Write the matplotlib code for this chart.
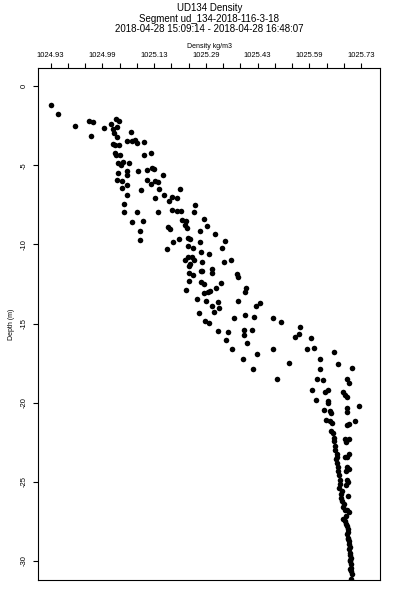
import numpy as np
import matplotlib
matplotlib.use("Agg")
import matplotlib.pyplot as plt

plt.rcParams['font.family'] = ['Liberation Sans', 'DejaVu Sans']

title = "UD134 Density"
segment = "Segment ud_134-2018-116-3-18"
time_range = "2018-04-28 15:09:14 - 2018-04-28 16:48:07"

# top axis labels as printed on the original (every third tick)
xtick_labels = ["1024.93", "1024.99", "1025.13", "1025.29", "1025.43", "1025.59", "1025.73"]
ytick_values = [0, -5, -10, -15, -20, -25, -30]

# density (kg/m3) and depth (m)
density = [
    1024.931, 1024.950, 1024.994, 1025.029, 1025.040, 1025.035, 1025.068, 1025.085, 1025.098, 1025.105,
    1025.091, 1025.101, 1025.093, 1025.102, 1025.137, 1025.091, 1025.096, 1025.105, 1025.127, 1025.139,
    1025.147, 1025.152, 1025.170, 1025.096, 1025.109, 1025.098, 1025.171, 1025.188, 1025.104, 1025.117,
    1025.133, 1025.111, 1025.154, 1025.104, 1025.127, 1025.126, 1025.179, 1025.192, 1025.196, 1025.219,
    1025.101, 1025.114, 1025.179, 1025.188, 1025.200, 1025.206, 1025.127, 1025.115, 1025.163, 1025.210,
    1025.264, 1025.127, 1025.223, 1025.200, 1025.243, 1025.255, 1025.236, 1025.118, 1025.303, 1025.118,
    1025.152, 1025.206, 1025.243, 1025.255, 1025.265, 1025.299, 1025.324, 1025.333, 1025.269, 1025.279,
    1025.276, 1025.281, 1025.139, 1025.167, 1025.232, 1025.237, 1025.161, 1025.316, 1025.161, 1025.262,
    1025.285, 1025.289, 1025.246, 1025.316, 1025.284, 1025.297, 1025.229, 1025.353, 1025.379, 1025.371,
    1025.338, 1025.318, 1025.283, 1025.293, 1025.275, 1025.287, 1025.290, 1025.300, 1025.321, 1025.298,
    1025.286, 1025.317, 1025.320, 1025.346, 1025.346, 1025.377, 1025.394, 1025.409, 1025.413, 1025.287,
    1025.317, 1025.325, 1025.368, 1025.355, 1025.341, 1025.335, 1025.325, 1025.279, 1025.434, 1025.431,
    1025.307, 1025.331, 1025.361, 1025.364, 1025.346, 1025.352, 1025.313, 1025.414, 1025.470, 1025.459,
    1025.402, 1025.431, 1025.454, 1025.504, 1025.523, 1025.328, 1025.338, 1025.573, 1025.569, 1025.559,
    1025.601, 1025.361, 1025.388, 1025.429, 1025.428, 1025.450, 1025.382, 1025.435, 1025.398, 1025.425,
    1025.461, 1025.504, 1025.451, 1025.591, 1025.608, 1025.661, 1025.625, 1025.671, 1025.625, 1025.545,
    1025.514, 1025.615, 1025.632, 1025.694, 1025.707, 1025.698, 1025.603, 1025.636, 1025.644, 1025.614,
    1025.683, 1025.688, 1025.694, 1025.644, 1025.644, 1025.725, 1025.633, 1025.650, 1025.651, 1025.693,
    1025.693, 1025.713, 1025.693, 1025.699, 1025.640, 1025.650, 1025.654, 1025.652, 1025.657, 1025.659,
    1025.661, 1025.688, 1025.699, 1025.692, 1025.663, 1025.663, 1025.667, 1025.668, 1025.665, 1025.699,
    1025.693, 1025.689, 1025.670, 1025.671, 1025.672, 1025.675, 1025.676, 1025.693, 1025.699, 1025.691,
    1025.693, 1025.695, 1025.690, 1025.681, 1025.677, 1025.680, 1025.695, 1025.683, 1025.688, 1025.693,
    1025.698, 1025.683, 1025.688, 1025.691, 1025.693, 1025.695, 1025.697, 1025.693, 1025.697, 1025.699,
    1025.699, 1025.701, 1025.698, 1025.701, 1025.702, 1025.703, 1025.701, 1025.703, 1025.704, 1025.705,
    1025.706, 1025.705, 1025.668, 1025.673, 1025.679, 1025.686, 1025.690, 1025.696, 1025.700, 1025.702,
]
depth = [
    -1.18, -1.75, -2.53, -2.22, -2.28, -3.15, -2.64, -2.39, -2.09, -2.23,
    -2.72, -2.61, -2.99, -3.25, -2.93, -3.63, -3.73, -3.75, -3.50, -3.48,
    -3.42, -3.59, -3.54, -4.26, -4.35, -4.35, -4.35, -4.24, -4.85, -4.77,
    -4.83, -4.98, -5.38, -5.49, -5.36, -5.61, -5.30, -5.15, -5.21, -5.59,
    -5.95, -5.99, -5.93, -6.16, -6.01, -6.08, -6.22, -6.44, -6.58, -6.52,
    -6.52, -6.88, -6.90, -7.07, -6.98, -7.09, -7.23, -7.42, -7.51, -7.97,
    -7.97, -7.97, -7.85, -7.89, -7.89, -7.93, -8.37, -8.84, -8.44, -8.54,
    -8.78, -8.99, -8.56, -8.53, -8.91, -9.05, -9.16, -9.18, -9.73, -9.64,
    -9.62, -9.66, -9.87, -9.83, -10.13, -10.21, -10.32, -9.32, -9.77, -10.25,
    -10.61, -10.49, -10.80, -10.78, -11.01, -11.35, -11.27, -10.97, -11.14, -11.92,
    -11.79, -11.71, -11.71, -11.58, -11.79, -11.14, -10.97, -11.85, -12.07, -12.34,
    -12.39, -12.49, -12.42, -12.74, -12.97, -13.04, -13.08, -12.87, -12.78, -12.99,
    -13.44, -13.59, -13.67, -14.01, -13.88, -14.30, -14.35, -13.59, -13.72, -13.91,
    -14.62, -14.49, -14.58, -14.64, -14.92, -14.87, -14.96, -15.23, -15.65, -15.87,
    -15.89, -15.46, -15.51, -15.40, -15.72, -15.38, -16.06, -16.22, -16.63, -17.23,
    -16.92, -16.60, -17.89, -16.63, -16.56, -16.82, -17.26, -17.58, -17.89, -17.51,
    -18.48, -18.48, -18.54, -18.48, -17.78, -18.75, -19.20, -19.35, -19.20, -19.81,
    -19.35, -19.49, -19.66, -19.92, -20.04, -20.23, -20.46, -20.51, -20.68, -20.34,
    -20.57, -21.14, -21.41, -21.35, -21.08, -21.14, -21.31, -21.77, -21.94, -22.20,
    -22.45, -22.30, -22.32, -22.47, -22.72, -22.99, -23.25, -23.42, -23.56, -23.21,
    -23.42, -23.46, -24.09, -24.30, -24.56, -24.89, -25.15, -24.09, -24.16, -24.30,
    -24.87, -25.04, -25.19, -25.57, -26.03, -26.20, -25.89, -26.58, -26.77, -26.77,
    -26.88, -27.32, -27.47, -27.64, -27.78, -27.99, -28.15, -28.31, -28.53, -28.73,
    -28.91, -29.11, -29.26, -29.47, -29.62, -29.79, -30.00, -30.21, -30.42, -30.63,
    -30.84, -31.16, -23.80, -25.40, -25.75, -26.40, -27.15, -28.62, -29.95, -30.50,
]

fig = plt.figure(figsize=(4, 6), dpi=100)
ax = fig.add_axes([0.096, 0.0333, 0.854, 0.8534])

ax.plot(density, depth, 'o', color='black', markersize=4, markeredgewidth=0)

ax.set_xlim(1024.8986, 1025.7785)
ax.set_ylim(-31.2, 1.14)

# 19 evenly spaced ticks along the top, labelled every third
xt = np.linspace(1024.93, 1025.73, 19)
ax.set_xticks(xt)
ax.set_xticklabels([xtick_labels[i // 3] if i % 3 == 0 else '' for i in range(len(xt))])
ax.xaxis.tick_top()
ax.xaxis.set_label_position('top')
ax.set_xlabel("Density kg/m3", fontsize=5, labelpad=3)
ax.tick_params(axis='x', which='both', direction='out', length=3.6, width=0.8,
               labelsize=5.5, pad=3, top=True, bottom=False)

ax.set_yticks(ytick_values)
ax.set_yticklabels([str(v) for v in ytick_values])
ax.tick_params(axis='y', direction='out', length=3.6, width=0.8, labelsize=5.5,
               pad=4, left=True, right=False, labelrotation=90)
for lbl in ax.get_yticklabels():
    lbl.set_va('center')
ax.set_ylabel("Depth (m)", fontsize=5, labelpad=4)

for s in ax.spines.values():
    s.set_linewidth(0.8)

xc = 0.096 + 0.854 / 2
fig.text(xc, 1 - 8 / 600, title, ha='center', va='center', fontsize=7)
fig.text(xc, 1 - 18.5 / 600, segment, ha='center', va='center', fontsize=7)
fig.text(xc, 1 - 29 / 600, time_range, ha='center', va='center', fontsize=7)

fig.savefig("out.png", dpi=100)
